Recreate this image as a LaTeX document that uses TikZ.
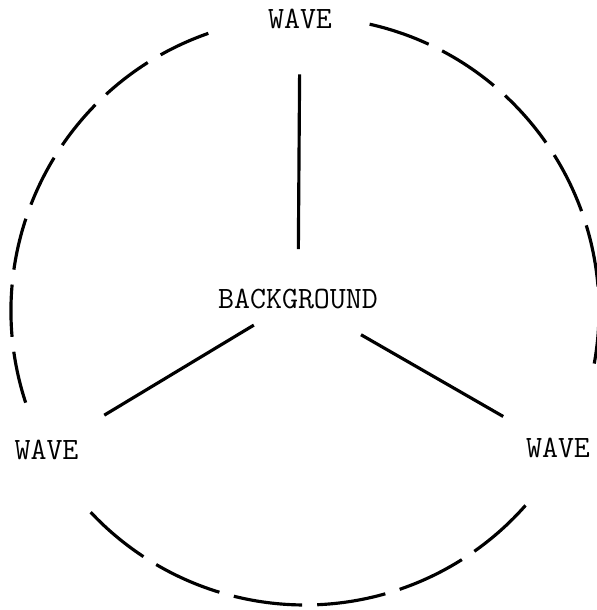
\documentclass[tikz,border=0pt]{standalone}
\usepackage{fontspec}
\usepackage{tikz}
\usetikzlibrary{positioning,calc}

\begin{document}
\begin{tikzpicture}[
        x=0.03cm, y=0.03cm,
        line width=2.7pt,
        % text of the terms
        term/.style={inner sep=0pt, font=\ttfamily\fontsize{26.5}{30}\selectfont},
        % the three straight links
        spoke/.style={line cap=butt},
        % the broken ring
        ring/.style={line cap=butt}
    ]
    \useasboundingbox (0,0) rectangle (597,610);

    % ====================
    % Nodes
    % ====================
    \node[term] (bg) at (298,311.5) {BACKGROUND};
    \node[term] (wtop) at (300,591) {WAVE};
    \node[term] (wleft) at (46.5,160) {WAVE};
    \node[term] (wright) at (558,162) {WAVE};

    % ====================
    % Links
    % ====================
    \draw[spoke, shorten <=1.14cm, shorten >=1.32cm] (bg) -- (wtop);
    \draw[spoke, shorten <=0.88cm, shorten >=1.36cm] (bg) -- (wleft);
    \draw[spoke, shorten <=1.49cm, shorten >=1.21cm] (bg) -- (wright);

    % ====================
    % Ring (three dashed arcs)
    % ====================
    \coordinate (c) at (305,299);
    \draw[ring, dash pattern=on 53.3pt off 12.8pt]
        (c) ++(77.3:294) arc[start angle=77.3, end angle=-10.3, radius=294];
    \draw[ring, dash pattern=on 44.7pt off 12.8pt]
        (c) ++(109.2:294) arc[start angle=109.2, end angle=198.2, radius=294];
    \draw[ring, dash pattern=on 59pt off 12.8pt]
        (c) ++(223.2:294) arc[start angle=223.2, end angle=318.6, radius=294];

\end{tikzpicture}
\end{document}
